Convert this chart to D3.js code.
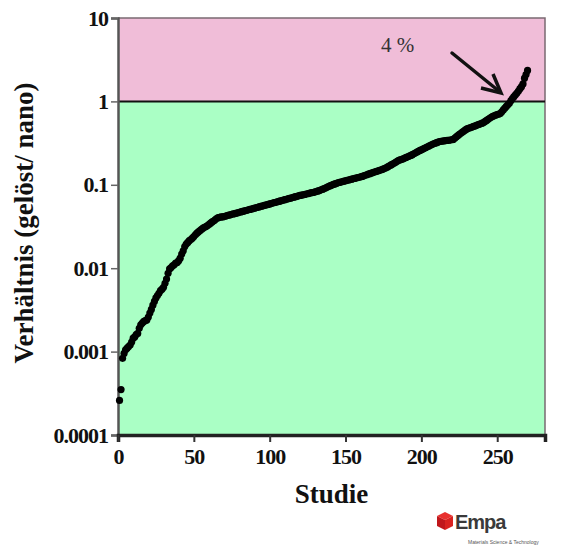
<!DOCTYPE html>
<html>
<head>
<meta charset="utf-8">
<script src="https://cdnjs.cloudflare.com/ajax/libs/d3/7.8.5/d3.min.js"></script>
<style>
  body { margin: 0; background: #fff; }
  text { font-family: "Liberation Serif", "Times New Roman", serif; }
</style>
</head>
<body>
<script>
// ratio dissolved / nano, one value per study, sorted
var ratio = [
  0.00026, 0.00035, 0.00083, 0.00095, 0.00105, 0.0011, 0.00115, 0.0012, 0.0013, 0.00145,
  0.0015, 0.0016, 0.00165, 0.0019, 0.0021, 0.0022, 0.0023, 0.00235, 0.0024, 0.0026,
  0.0029, 0.0032, 0.0036, 0.004, 0.0044, 0.0047, 0.005, 0.0054, 0.0056, 0.0059,
  0.0066, 0.0074, 0.0087, 0.0098, 0.0102, 0.0107, 0.011, 0.0115, 0.0117, 0.0123,
  0.0132, 0.0148, 0.0162, 0.0182, 0.0195, 0.0204, 0.0214, 0.0221, 0.0229, 0.024,
  0.0251, 0.0263, 0.0272, 0.0282, 0.0292, 0.0302, 0.0309, 0.0316, 0.0324, 0.0335,
  0.0347, 0.0359, 0.0367, 0.038, 0.0394, 0.0403, 0.0407, 0.0412, 0.0412, 0.0417,
  0.0422, 0.0427, 0.0432, 0.0437, 0.0442, 0.0447, 0.0452, 0.0457, 0.0462, 0.0468,
  0.0473, 0.0479, 0.0484, 0.049, 0.0495, 0.0501, 0.0507, 0.0513, 0.0519, 0.0525,
  0.0531, 0.0537, 0.0543, 0.055, 0.0556, 0.0562, 0.0569, 0.0575, 0.0582, 0.0589,
  0.0596, 0.0603, 0.061, 0.0617, 0.0625, 0.0632, 0.064, 0.0647, 0.0655, 0.0663,
  0.0671, 0.0679, 0.0687, 0.0695, 0.0703, 0.0711, 0.072, 0.0729, 0.0738, 0.0746,
  0.0752, 0.0758, 0.0765, 0.0775, 0.0781, 0.079, 0.0798, 0.0805, 0.0813, 0.0822,
  0.0832, 0.0845, 0.0858, 0.087, 0.0885, 0.0902, 0.092, 0.094, 0.0958, 0.0975,
  0.0993, 0.101, 0.1025, 0.104, 0.1055, 0.1068, 0.108, 0.1092, 0.1105, 0.1118,
  0.113, 0.1142, 0.1155, 0.1168, 0.118, 0.1193, 0.1207, 0.122, 0.1232, 0.1245,
  0.126, 0.128, 0.13, 0.132, 0.134, 0.136, 0.138, 0.14, 0.142, 0.144,
  0.146, 0.148, 0.15, 0.152, 0.155, 0.158, 0.161, 0.165, 0.169, 0.173,
  0.177, 0.181, 0.186, 0.191, 0.196, 0.199, 0.202, 0.205, 0.209, 0.213,
  0.217, 0.221, 0.225, 0.23, 0.235, 0.24, 0.246, 0.252, 0.258, 0.263,
  0.268, 0.274, 0.28, 0.286, 0.292, 0.298, 0.304, 0.31, 0.315, 0.32,
  0.325, 0.33, 0.332, 0.334, 0.336, 0.338, 0.34, 0.342, 0.344, 0.347,
  0.35, 0.362, 0.375, 0.388, 0.402, 0.415, 0.428, 0.441, 0.455, 0.468,
  0.475, 0.482, 0.49, 0.497, 0.505, 0.513, 0.522, 0.53, 0.539, 0.548,
  0.558, 0.575, 0.592, 0.61, 0.628, 0.645, 0.66, 0.672, 0.684, 0.695,
  0.705, 0.715, 0.75, 0.79, 0.83, 0.87, 0.91, 0.95, 1.02, 1.08,
  1.14, 1.2, 1.26, 1.33, 1.42, 1.5, 1.62, 1.9, 2.1, 2.35
];

var xTicks = [0, 50, 100, 150, 200, 250];
var yTicks = [0.0001, 0.001, 0.01, 0.1, 1, 10];
var yTickLabels = ["0.0001", "0.001", "0.01", "0.1", "1", "10"];

var width = 562,
    height = 548;

var plotL = 118, plotR = 545, plotT = 18, plotB = 435;

var svg = d3.select("body").append("svg")
    .attr("width", width)
    .attr("height", height);

var x = d3.scaleLinear().domain([0, 281.5]).range([plotL, plotR]);
var y = d3.scaleLog().domain([0.0001, 10]).range([plotB, plotT]);

// background bands
svg.append("rect")
    .attr("x", plotL).attr("y", y(10))
    .attr("width", plotR - plotL).attr("height", y(1) - y(10))
    .attr("fill", "#f0bdd8");

svg.append("rect")
    .attr("x", plotL).attr("y", y(1))
    .attr("width", plotR - plotL).attr("height", y(0.0001) - y(1))
    .attr("fill", "#aaffc5");

// frame top / right
svg.append("path")
    .attr("d", "M" + plotL + "," + y(10) + "H" + plotR + "V" + y(0.0001))
    .attr("fill", "none")
    .attr("stroke", "#7a6a72")
    .attr("stroke-width", 1.5);

// line at ratio = 1
svg.append("line")
    .attr("x1", plotL).attr("x2", plotR)
    .attr("y1", y(1)).attr("y2", y(1))
    .attr("stroke", "#111")
    .attr("stroke-width", 2);

// axes
var yAxis = svg.append("g")
    .attr("transform", "translate(" + plotL + ",0)")
    .call(d3.axisLeft(y).tickValues(yTicks)
      .tickFormat(function(d, i) { return yTickLabels[i]; })
      .tickSize(7).tickPadding(3));

yAxis.select(".domain").attr("stroke", "#555").attr("stroke-width", 2.5);
yAxis.selectAll(".tick line").attr("stroke", "#666").attr("stroke-width", 1.5);
yAxis.selectAll(".tick text")
    .style("font-family", "'Liberation Serif', serif")
    .style("font-weight", "bold")
    .style("font-size", "22px")
    .style("letter-spacing", "-1px")
    .attr("fill", "#111");

var xAxis = svg.append("g")
    .attr("transform", "translate(0," + plotB + ")")
    .call(d3.axisBottom(x).tickValues(xTicks).tickSize(7).tickPadding(6));

xAxis.select(".domain").attr("stroke", "#222").attr("stroke-width", 3.5);
xAxis.selectAll(".tick line").attr("stroke", "#333").attr("stroke-width", 2);
xAxis.selectAll(".tick text")
    .style("font-family", "'Liberation Serif', serif")
    .style("font-weight", "bold")
    .style("font-size", "22px")
    .style("letter-spacing", "-1px")
    .attr("fill", "#111");

// axis titles
svg.append("text")
    .attr("x", (plotL + plotR) / 2)
    .attr("y", 503)
    .attr("text-anchor", "middle")
    .style("font-weight", "bold")
    .style("font-size", "27px")
    .attr("fill", "#111")
    .text("Studie");

svg.append("text")
    .attr("transform", "translate(33," + 223 + ") rotate(-90)")
    .attr("text-anchor", "middle")
    .style("font-weight", "bold")
    .style("font-size", "27px")
    .attr("fill", "#111")
    .text("Verhältnis (gelöst/ nano)");

// data points
svg.append("g").selectAll("circle")
    .data(ratio)
  .enter().append("circle")
    .attr("cx", function(d, i) { return x(i + 1); })
    .attr("cy", function(d) { return y(d); })
    .attr("r", 3.6)
    .attr("fill", "#000");

// annotation
svg.append("text")
    .attr("x", 381)
    .attr("y", 52)
    .style("font-size", "21px")
    .attr("fill", "#333")
    .text("4 %");

svg.append("line")
    .attr("x1", 452).attr("y1", 53)
    .attr("x2", 500).attr("y2", 92)
    .attr("stroke", "#111")
    .attr("stroke-width", 3.5)
    .attr("stroke-linecap", "round");

svg.append("path")
    .attr("d", "M481,88 L501,93 L493,74")
    .attr("fill", "none")
    .attr("stroke", "#111")
    .attr("stroke-width", 3.5)
    .attr("stroke-linejoin", "miter");

// Empa logo
var logo = svg.append("g").attr("transform", "translate(437,512)");
logo.append("path").attr("d", "M8,0 L16,4 L8,8 L0,4 Z").attr("fill", "#e8302e");
logo.append("path").attr("d", "M0,4 L8,8 L8,18 L0,14 Z").attr("fill", "#c0171b");
logo.append("path").attr("d", "M8,8 L16,4 L16,14 L8,18 Z").attr("fill", "#d9221f");

svg.append("text")
    .attr("x", 455)
    .attr("y", 529)
    .style("font-family", "'Liberation Sans', Arial, sans-serif")
    .style("font-weight", "bold")
    .style("font-size", "20px")
    .style("letter-spacing", "-1px")
    .attr("fill", "#3a3a3a")
    .text("Empa");

svg.append("text")
    .attr("x", 468)
    .attr("y", 544)
    .style("font-family", "'Liberation Sans', Arial, sans-serif")
    .style("font-size", "5px")
    .attr("fill", "#555")
    .text("Materials Science & Technology");
</script>
</body>
</html>
